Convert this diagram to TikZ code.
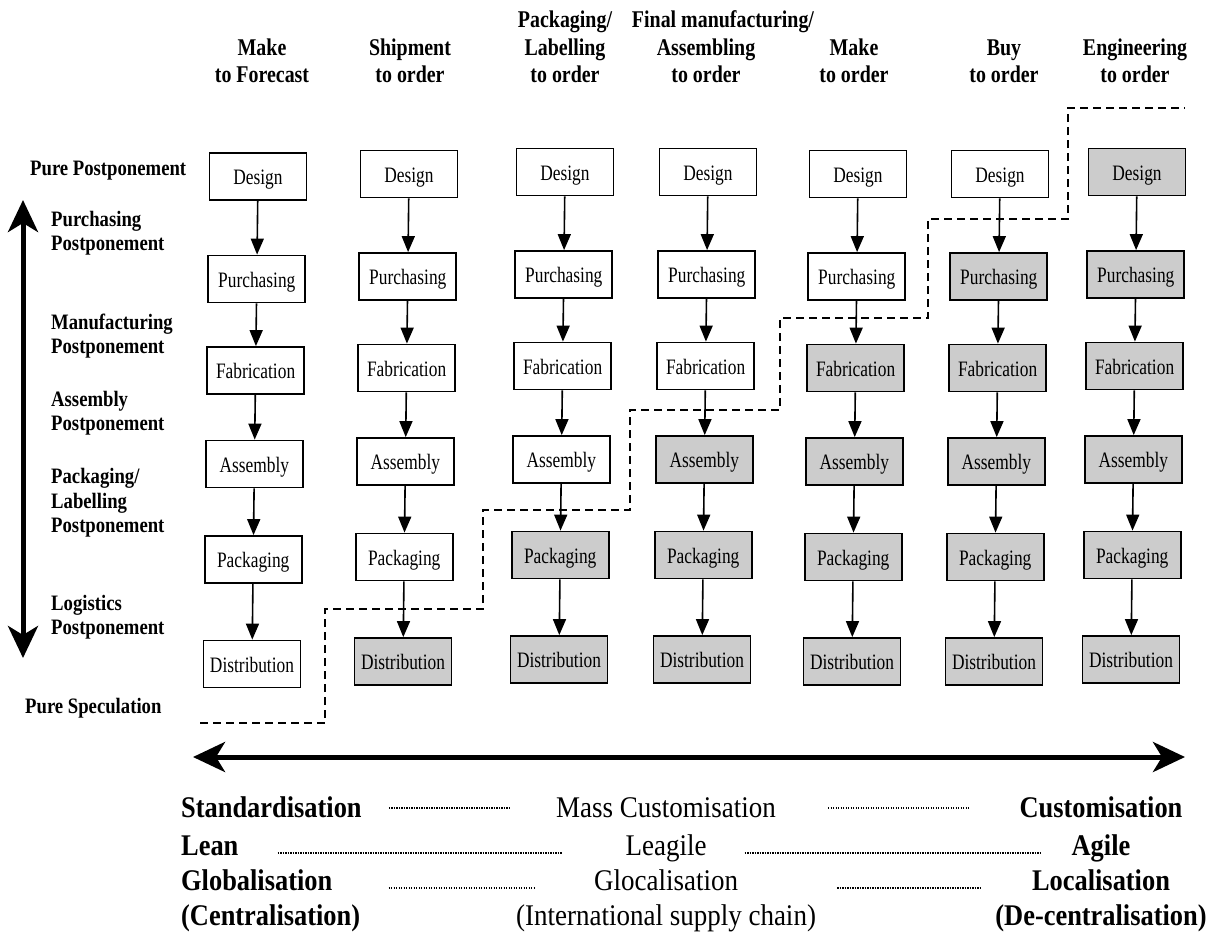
\documentclass[tikz,border=0pt]{standalone}
\usepackage{fontspec}
\setmainfont{Liberation Serif}[FakeStretch=0.85]
\newfontfamily\boxfont{Liberation Serif}[FakeStretch=0.79]
\newfontfamily\headfont{Liberation Serif}[FakeStretch=0.83]
\newfontfamily\polefont{Liberation Serif}[FakeStretch=0.88]
\newfontfamily\midfont{Liberation Serif}[FakeStretch=0.9]
\usetikzlibrary{arrows.meta}

\tikzset{
  stage/.style={draw, line width=1.8pt, minimum width=97pt, minimum height=47pt,
    inner sep=0pt, text height=16pt, text depth=0pt, font=\boxfont\fontsize{22}{26}\selectfont},
  flow/.style={-{Triangle[length=16pt,width=13pt]}, line width=1.6pt},
  header/.style={align=center, anchor=south, inner sep=0pt, text depth=0pt,
    font=\headfont\bfseries\fontsize{24}{27.5}\selectfont},
  level/.style={align=left, anchor=south west, inner sep=0pt, text depth=0pt,
    font=\bfseries\fontsize{22}{24.5}\selectfont},
  pole/.style={anchor=base west, inner sep=0pt, font=\polefont\bfseries\fontsize{30}{36}\selectfont},
  middle/.style={anchor=base, inner sep=0pt, font=\midfont\fontsize{30}{36}\selectfont},
  cutoff/.style={line width=2pt, dash pattern=on 8pt off 5pt},
  leader/.style={line width=2pt, dash pattern=on 1.4pt off 1.1pt},
  bigarrow/.style={line width=5pt,
    {Stealth[length=32pt,width=30pt,inset=9pt]}-{Stealth[length=32pt,width=30pt,inset=9pt]}}
}

\begin{document}
\begin{tikzpicture}[x=1pt,y=-1pt]
  \useasboundingbox (0,0) rectangle (1215,937);

  % column headings
  \node[header] (h1) at (262,83) {Make\\to Forecast};
  \node[header] (h2) at (410,83) {Shipment\\to order};
  \node[header] (h3) at (565,83) {Packaging/\\Labelling\\to order};
  \node[header] (h4) at (706,83) {\hspace*{34pt}Final manufacturing/\\Assembling\\to order};
  \node[header] (h5) at (854,83) {Make\\to order};
  \node[header] (h6) at (1004,83) {Buy\\to order};
  \node[header] (h7) at (1135,83) {Engineering\\to order};

  % postponement levels
  \node[level, anchor=base west] (l0) at (30,175) {Pure Postponement};
  \node[level] (l1) at (51,251) {Purchasing\\Postponement};
  \node[level] (l2) at (51,354) {Manufacturing\\Postponement};
  \node[level] (l3) at (51,431) {Assembly\\Postponement};
  \node[level] (l4) at (51,533) {Packaging/\\Labelling\\Postponement};
  \node[level] (l5) at (51,635) {Logistics\\Postponement};
  \node[level, anchor=base west] (l6) at (25,713) {Pure Speculation};

  \coordinate (up) at (23,200);
  \coordinate (down) at (23,658);
  \draw[bigarrow] (up) -- (down);

  % the supply chain stages, grey = done to order
  \foreach \c/\x/\dy in {1/258/2.5, 2/409/0, 3/565/-2, 4/708/-2, 5/858/0, 6/1000/0, 7/1137/-2}{
    \foreach \r/\y/\t in {1/174/Design, 2/276.5/Purchasing, 3/368/Fabrication,
                          4/461.5/Assembly, 5/557/Packaging, 6/661.5/Distribution}{
      \pgfmathsetmacro\xx{\x-1.2*(\r-1)}
      \pgfmathtruncatemacro\late{\r+\c>7}
      \ifnum\late=1 \def\boxfill{black!20}\else\def\boxfill{white}\fi
      \node[stage, fill=\boxfill] (s\c\r) at (\xx,\y+\dy) {\t};
    }
    \foreach \r [evaluate=\r as \s using int(\r+1)] in {1,...,5}
      \draw[flow] (s\c\r) -- (s\c\s);
  }

  % decoupling point
  \draw[cutoff] (200,723) -| (325,609) -| (483,510) -| (630,410) -| (780,318)
    -| (928,219) -| (1068,108) -- (1185,108);

  \coordinate (lend) at (193,757);
  \coordinate (rend) at (1185,757);
  \draw[bigarrow] (lend) -- (rend);

  % strategies
  \node[pole] (std) at (181,817) {Standardisation};
  \node[middle] (mass) at (666,817) {Mass Customisation};
  \node[pole, anchor=base] (cust) at (1101,817) {Customisation};
  \node[pole] (lean) at (181,855) {Lean};
  \node[middle] (leag) at (666,855) {Leagile};
  \node[pole, anchor=base] (agil) at (1101,855) {Agile};
  \node[pole] (glob) at (181,890) {Globalisation};
  \node[middle] (gloc) at (666,890) {Glocalisation};
  \node[pole, anchor=base] (loc) at (1101,890) {Localisation};
  \node[pole] (cent) at (181,925) {(Centralisation)};
  \node[middle] (intl) at (666,925) {(International supply chain)};
  \node[pole, anchor=base] (decent) at (1101,925) {(De-centralisation)};

  \draw[leader] ([xshift=27pt,yshift=7pt]std.mid east) -- ([xshift=-46pt,yshift=7pt]mass.mid west);
  \draw[leader] ([xshift=52pt,yshift=7pt]mass.mid east) -- ([xshift=-51pt,yshift=7pt]cust.mid west);
  \draw[leader] ([xshift=39pt]lean.mid east) -- ([xshift=-63pt]leag.mid west);
  \draw[leader] ([xshift=38pt]leag.mid east) -- ([xshift=-31pt]agil.mid west);
  \draw[leader] ([xshift=56pt]glob.mid east) -- ([xshift=-59pt]gloc.mid west);
  \draw[leader] ([xshift=99pt]gloc.mid east) -- ([xshift=-52pt]loc.mid west);
\end{tikzpicture}
\end{document}
